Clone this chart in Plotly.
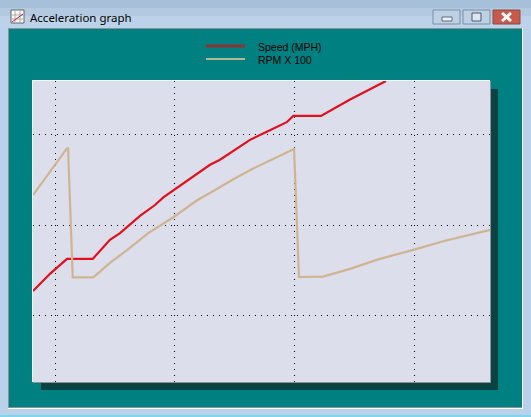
import plotly.graph_objects as go

W = 531
H = 417

# values
speed_time = [-1.84, -0.42, 1.0, 3.15, 4.59, 5.43, 7.10, 8.35, 9.05, 10.02, 11.28, 12.95, 13.78, 14.9, 16.29, 17.69, 19.36, 19.91, 22.22, 24.65, 27.4, 27.65]
speed_mph = [25.5, 29.3, 32.6, 32.6, 36.8, 38.3, 42.1, 44.5, 46.2, 48.0, 50.4, 53.4, 54.5, 56.5, 58.9, 60.7, 62.8, 64.2, 64.2, 67.8, 71.6, 71.9]

rpm_time = [-1.84, 1.0, 1.09, 1.48, 3.2, 4.59, 6.04, 7.79, 9.88, 11.84, 13.37, 14.9, 16.43, 17.96, 19.91, 19.97, 20.38, 22.39, 24.79, 27.0, 29.93, 32.58, 36.2, 36.34]
rpm_x100 = [46.7, 57.0, 57.0, 28.5, 28.5, 31.7, 34.6, 38.3, 41.8, 45.5, 47.8, 50.2, 52.4, 54.3, 56.9, 56.9, 28.6, 28.7, 30.5, 32.5, 34.6, 36.6, 38.9, 39.0]

x_ticks = [0, 10, 20, 30]
y_ticks = [20, 40, 60]

legend_labels = ["Speed (MPH)", "RPM X 100"]


def px(x):
    return x / W


def py(y):
    return 1 - y / H


def box(x0, y0, x1, y1, fill, line=None):
    return dict(
        type="rect", xref="paper", yref="paper", layer="below",
        x0=px(x0), x1=px(x1), y0=py(y0), y1=py(y1),
        fillcolor=fill, line=dict(color=line or fill, width=1 if line else 0),
    )


def seg(x0, y0, x1, y1, color, width=1):
    return dict(
        type="line", xref="paper", yref="paper", layer="below",
        x0=px(x0), x1=px(x1), y0=py(y0), y1=py(y1),
        line=dict(color=color, width=width),
    )


def label(text, x, y, family, size, color="#000000"):
    return dict(
        text=text, xref="paper", yref="paper", x=px(x), y=py(y),
        xanchor="left", yanchor="middle", showarrow=False,
        font=dict(family=family, size=size, color=color),
    )


shapes = [
    # window frame
    box(0, 0, 531, 8, "#a7c0da"),
    box(0, 8, 531, 16, "#b2c9e0"),
    box(0, 16, 531, 29, "#bcd2e8"),
    box(0, 29, 531, 415, "#b9d1ea"),
    box(0, 415, 531, 417, "#7fd6ea"),
    box(8, 28, 523, 409, "#ffffff"),
    box(8, 28, 522, 408, "#8a9298"),
    box(9, 29, 522, 407, "#008080"),
    # min / max / close buttons
    box(433, 10, 460, 24, "#bdd0e4", "#7d8ea3"),
    box(463, 10, 490, 24, "#bdd0e4", "#7d8ea3"),
    box(493, 10, 520, 24, "#c9594c", "#8c4a44"),
    box(442, 17, 452, 21, "#eef3f8", "#5c6b7d"),
    box(472, 13, 481, 21, "#dce6f0", "#4c5b6d"),
    seg(502, 13, 511, 21, "#ffffff", 3),
    seg(502, 21, 511, 13, "#ffffff", 3),
    # title icon
    box(11, 10, 24, 23, "#ffffff", "#666666"),
    seg(15, 10, 15, 23, "#aaaaaa"),
    seg(20, 10, 20, 23, "#aaaaaa"),
    seg(11, 15, 24, 15, "#aaaaaa"),
    seg(11, 19, 24, 19, "#aaaaaa"),
    seg(12, 22, 23, 14, "#c0203a"),
    # chart shadow and panel
    box(41, 89, 498, 390, "#0b4343"),
    box(32, 80, 490, 382, "#f2fbfb"),
    box(33, 81, 491, 383, "#8e9298"),
    box(33, 81, 490, 382, "#dcdeec"),
    # legend keys
    seg(206, 46, 245, 46, "#8b3535", 3),
    seg(206, 59, 245, 59, "#b7b88f", 2),
]

fig = go.Figure()

fig.add_trace(go.Scatter(
    x=speed_time,
    y=speed_mph,
    mode="lines",
    name=legend_labels[0],
    line=dict(color="#e0101c", width=2.2)
))

fig.add_trace(go.Scatter(
    x=rpm_time,
    y=rpm_x100,
    mode="lines",
    name=legend_labels[1],
    line=dict(color="#cfb492", width=2.2)
))

grid = dict(
    showticklabels=False,
    ticks="",
    zeroline=False,
    showline=False,
    gridcolor="#000000",
    gridwidth=1,
    griddash="1px,5px",
)

fig.update_layout(
    width=W,
    height=H,
    margin=dict(l=0, r=0, t=0, b=0),
    paper_bgcolor="#b9d1ea",
    plot_bgcolor="rgba(0,0,0,0)",
    shapes=shapes,
    showlegend=False,
    xaxis=dict(domain=[33 / W, 490 / W], range=[-1.84, 36.34], tickvals=x_ticks, **grid),
    yaxis=dict(domain=[1 - 382 / H, 1 - 81 / H], range=[5.4, 71.9], tickvals=y_ticks, **grid),
    annotations=[
        label("Acceleration graph", 28, 18, "Noto Sans", 11.5),
        label(legend_labels[0], 256, 47, "Liberation Sans", 10.5),
        label(legend_labels[1], 256, 60, "Liberation Sans", 10.5),
    ],
)

fig.write_html(
    "out.html",
    config=dict(displayModeBar=False),
    post_script="document.body.style.margin='0';",
)
